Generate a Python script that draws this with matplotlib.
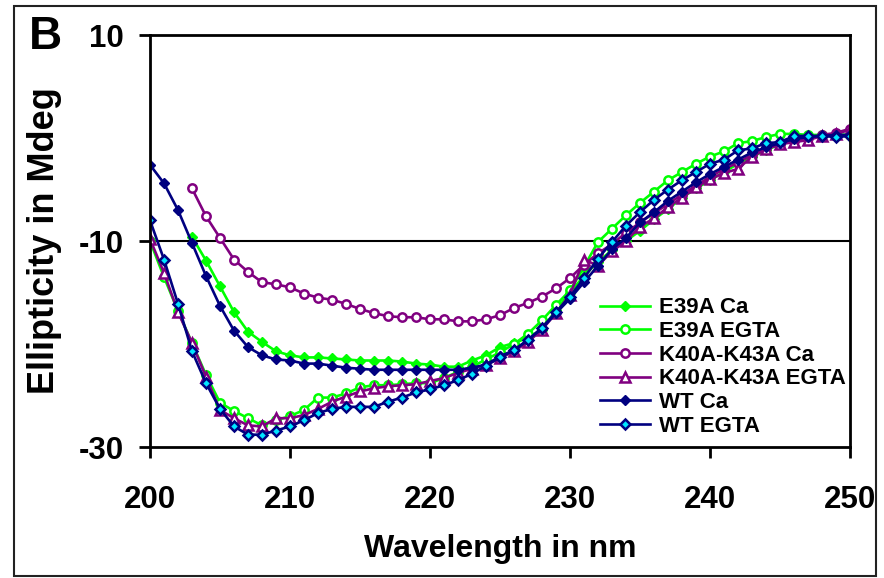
import numpy as np
import matplotlib
matplotlib.use("Agg")
import matplotlib.pyplot as plt
from matplotlib.patches import Rectangle

plt.rcParams['font.family'] = ['Liberation Sans', 'DejaVu Sans']
plt.rcParams['font.weight'] = 'bold'
plt.rcParams['axes.unicode_minus'] = False

# wavelengths (nm)
wl_full = list(range(200, 251))
wl_203 = list(range(203, 251))

# ellipticity values (Mdeg)
e39a_ca = [-9.6, -11.9, -14.4, -16.9, -18.8, -19.8, -20.7, -21.1, -21.3, -21.3,
           -21.4, -21.5, -21.6, -21.6, -21.6, -21.7, -21.9, -22.0, -22.2, -22.2,
           -21.6, -21.1, -20.3, -19.9, -19.4, -18.6, -16.7, -15.0, -13.4, -12.0,
           -10.9, -10.0, -9.0, -7.9, -6.9, -5.8, -4.9, -4.1, -3.3, -2.5,
           -1.8, -1.2, -0.6, -0.2, 0.1, 0.2, 0.3, 0.3]
e39a_egta = [-10.0, -13.5, -16.8, -19.9, -23.0, -25.7, -26.5, -27.2, -27.9, -27.4,
             -27.0, -26.4, -25.2, -25.2, -24.8, -24.2, -24.0, -24.0, -23.9, -23.8,
             -23.8, -23.3, -22.7, -22.2, -21.5, -20.8, -20.0, -19.0, -17.7, -16.2,
             -14.8, -12.5, -10.1, -8.8, -7.5, -6.3, -5.2, -4.1, -3.3, -2.5,
             -1.8, -1.3, -0.5, -0.3, 0.1, 0.4, 0.4, 0.3, 0.3, 0.3, 0.3]
k40a_ca = [-4.9, -7.6, -9.7, -11.8, -13.0, -14.0, -14.2, -14.5, -15.1, -15.5,
           -15.7, -16.1, -16.6, -17.0, -17.3, -17.4, -17.4, -17.6, -17.6, -17.8,
           -17.8, -17.6, -17.2, -16.5, -16.0, -15.4, -14.6, -13.6, -12.3, -11.2,
           -10.3, -9.2, -8.2, -7.3, -6.4, -5.5, -4.6, -3.8, -3.0, -2.4,
           -1.6, -1.0, -0.6, -0.3, 0.0, 0.3, 0.5, 0.9]
k40a_egta = [-9.8, -13.1, -16.9, -19.9, -23.2, -26.4, -27.2, -27.9, -28.0, -27.2,
             -27.2, -26.9, -26.3, -25.6, -25.1, -24.6, -24.3, -24.1, -24.0, -23.9,
             -23.6, -23.3, -22.8, -22.4, -22.0, -21.4, -20.7, -19.8, -18.6, -17.0,
             -15.2, -11.8, -12.4, -11.0, -10.0, -8.6, -7.8, -6.7, -5.8, -4.8,
             -4.0, -3.4, -3.0, -1.8, -1.1, -0.6, -0.4, -0.2, 0.2, 0.4, 0.8]
wt_ca = [-2.6, -4.4, -7.0, -10.2, -13.4, -16.3, -18.7, -20.3, -21.1, -21.5,
         -21.6, -21.9, -21.9, -22.1, -22.3, -22.4, -22.5, -22.5, -22.5, -22.5,
         -22.5, -22.5, -22.5, -22.3, -22.0, -21.2, -20.6, -19.6, -18.5, -17.0,
         -15.6, -14.0, -12.4, -10.8, -9.7, -8.2, -7.2, -6.1, -5.2, -4.3,
         -3.5, -2.8, -2.1, -1.4, -0.9, -0.5, -0.1, 0.1, 0.2, 0.3, 0.3]
wt_egta = [-8.0, -11.8, -16.1, -20.7, -23.8, -26.3, -28.0, -28.8, -28.8, -28.4,
           -28.0, -27.4, -26.7, -26.3, -26.1, -26.1, -26.1, -25.6, -25.2, -24.7,
           -24.4, -24.0, -23.5, -22.9, -22.1, -21.3, -20.6, -19.6, -18.4, -16.9,
           -15.4, -13.6, -11.7, -10.1, -8.5, -7.2, -6.0, -5.0, -4.1, -3.3,
           -2.5, -2.1, -1.2, -1.0, -0.5, -0.4, 0.2, 0.2, 0.2, 0.1, 0.2]

green = '#00ff00'
purple = '#800080'
navy = '#000080'

fig = plt.figure(figsize=(8.84, 5.78), dpi=100)
ax = fig.add_axes([0.1697, 0.2266, 0.7918, 0.7128])

lw = 1.9
ms = 6
ax.plot(wl_203, e39a_ca, color=green, lw=lw, marker='D', ms=ms - 1,
        mfc=green, mec=green, label='E39A Ca')
ax.plot(wl_full, e39a_egta, color=green, lw=lw, marker='o', ms=ms,
        mfc='white', mec=green, mew=1.8, label='E39A EGTA')
ax.plot(wl_203, k40a_ca, color=purple, lw=lw, marker='o', ms=ms,
        mfc='white', mec=purple, mew=1.8, label='K40A-K43A Ca')
ax.plot(wl_full, k40a_egta, color=purple, lw=lw, marker='^', ms=ms + 1,
        mfc='white', mec=purple, mew=1.8, label='K40A-K43A EGTA')
ax.plot(wl_full, wt_ca, color=navy, lw=lw, marker='D', ms=ms - 1,
        mfc=navy, mec=navy, label='WT Ca')
ax.plot(wl_full, wt_egta, color=navy, lw=lw, marker='D', ms=ms - 1,
        mfc='#00e5ff', mec=navy, mew=1.8, label='WT EGTA')

ax.set_xlim(200, 250)
ax.set_ylim(-30, 10)
ax.set_xticks([200, 210, 220, 230, 240, 250])
ax.set_yticks([10, -10, -30])
ax.axhline(-10, color='black', lw=1.5, zorder=0)
for s in ax.spines.values():
    s.set_linewidth(2)
ax.tick_params(axis='both', direction='out', length=8, width=2,
               labelsize=22.5)
ax.tick_params(axis='x', pad=19)
ax.tick_params(axis='y', pad=11)
for lab in ax.get_xticklabels() + ax.get_yticklabels():
    lab.set_fontweight('bold')

ax.set_xlabel('Wavelength in nm', fontsize=23, fontweight='bold', labelpad=14)
ax.set_ylabel('Ellipticity in Mdeg', fontsize=26, fontweight='bold', labelpad=12)

ax.legend(loc='upper left', bbox_to_anchor=(0.643, 0.363), frameon=False,
          prop={'weight': 'bold', 'size': 16},
          handlelength=2.25, handletextpad=0.4, labelspacing=0.12,
          borderaxespad=0, borderpad=0)

fig.text(45 / 884, 1 - 37 / 578, 'B', fontsize=33, fontweight='bold',
         ha='center', va='center')

fig.patches.append(Rectangle((14 / 884, 0.004), 0.975, 0.986, transform=fig.transFigure,
                             fill=False, edgecolor='#222222', lw=1.5))

fig.savefig('out.png', dpi=100)
